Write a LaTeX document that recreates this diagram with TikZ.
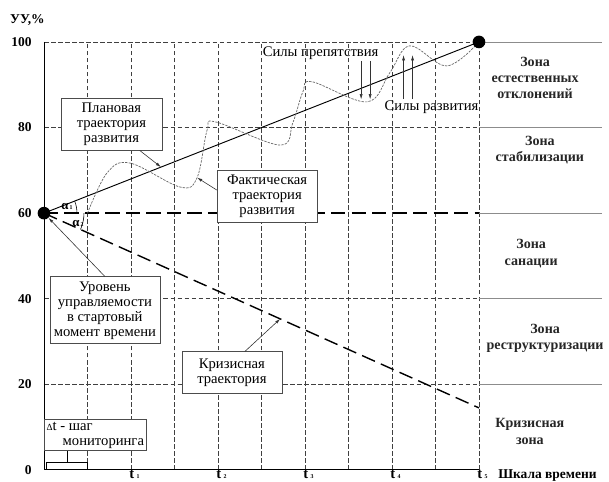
\documentclass[tikz,border=0pt]{standalone}
\usepackage{fontspec}
\setmainfont{Liberation Serif}
\usepackage{tikz}
\usetikzlibrary{positioning,arrows.meta}
\newcommand{\boxFont}{\fontsize{12.5}{12.8}\selectfont}
\newcommand{\zoneFont}{\fontsize{12}{14}\selectfont\bfseries}
\newcommand{\axisFont}{\fontsize{11.5}{13}\selectfont\bfseries}

\tikzset{
	gridline/.style={draw=black!75, line width=0.6pt, dash pattern=on 4pt off 2pt},
	zoneline/.style={draw=black!45, line width=0.7pt},
	bigdash/.style={line width=1.2pt, dash pattern=on 12pt off 5.5pt},
	infobox/.style={draw=black!70, line width=0.6pt, fill=white, align=center, font=\boxFont, inner sep=2pt},
	zone/.style={align=center, font=\zoneFont, text=black!85},
	pointer/.style={-{Latex[length=4.5pt,width=2.6pt]}, line width=0.5pt, draw=black!80},
	dot/.style={circle, fill=black, inner sep=0pt, minimum size=0.38cm},
}

\begin{document}
\begin{tikzpicture}[x=1.305cm, y=0.1284cm]
	\useasboundingbox (-1.011,-2.80) rectangle (12.989,109.8);
	%\draw[help lines] (0,0) grid (10,100);
	\foreach \v in {20,40,80,100}
		\draw[gridline] (0,\v) -- (10,\v);
	\foreach \k in {1,...,10}
		\draw[gridline] (\k,0) -- (\k,100);
	\foreach \v in {20,40,60,80,100}
		\draw[zoneline] (10,\v) -- (12.83,\v);
	\draw[line width=0.8pt] (0,100) -- (0,0) -- (10,0);

	\coordinate (crisisend) at (10,14.5);
	\coordinate (factpt) at (3.52,68.3);
	\draw[bigdash] (0,60) -- (10,60);
	\draw[bigdash] (0,60) -- (crisisend);
	\draw[line width=0.8pt] (0,60) -- (10,100);
	\path (0,60) -- (10,100) coordinate[pos=0.269] (planpt);
	\path (0,60) -- (crisisend) coordinate[pos=0.543] (crisispt);

	% fact curve
	\draw[black!60, line width=0.6pt, dash pattern=on 2pt off 1pt] plot[smooth, tension=0.6] coordinates {
		(1.0,60) (1.45,69.4) (1.98,71.7) (3.13,66.1) (factpt) (3.75,79.4) (3.95,81.3)
		(5.43,75.9) (5.72,81.1) (5.95,88.3) (6.16,90.7) (7.43,86.0) (7.95,92.8)
		(8.41,99.1) (9.26,94.4) (10,100)};

	\node[dot] (startdot) at (0,60) {};
	\node[dot] (goaldot) at (10,100) {};

	\draw[line width=0.5pt] ([shift={(0:0.99cm)}]startdot.center) arc[start angle=0, end angle=21.5, radius=0.99cm];
	\draw[line width=0.5pt] ([shift={(0:1.2cm)}]startdot.center) arc[start angle=0, end angle=-24, radius=1.2cm];
	\node[font=\bfseries\fontsize{11}{12}\selectfont, inner sep=0pt] (alpha1) at (0.53,61.6) {α{\tiny\,1}};
	\node[font=\bfseries\fontsize{11}{12}\selectfont, inner sep=0pt] (alpha2) at (0.78,57.6) {α{\tiny\,2}};

	% axes labels
	\foreach \v in {0,20,...,100}
		\node[anchor=east, font=\axisFont, inner sep=0pt] (y\v) at (-0.28,\v) {\v};
	\node[font=\axisFont] (yunit) at (-0.38,105.1) {УУ,\%};
	\foreach \k in {1,...,5}
		\node[anchor=base, font=\bfseries\fontsize{12.5}{14}\selectfont, inner sep=0pt] (t\k) at ([xshift=3pt]2*\k,-2.05) {t\,{\tiny\k}};
	\node[anchor=base west, font=\axisFont, inner sep=0pt] (timescale) at (10.44,-1.95) {Шкала времени};

	% zones
	\node[zone] (zone1) at (11.29,91.6) {Зона\\естественных\\отклонений};
	\node[zone] (zone2) at (11.40,74.8) {Зона\\стабилизации};
	\node[zone] (zone3) at (11.20,50.6) {Зона\\санации};
	\node[zone] (zone4) at (11.52,30.7) {Зона\\реструктуризации};
	\node[zone] (zone5) at (11.17,9.0) {Кризисная\\зона};

	% boxes
	\node[infobox, minimum width=3.03cm, minimum height=1.56cm] (planbox) at (1.55,80.8) {Плановая\\траектория\\развития};
	\node[infobox, minimum width=3.0cm, minimum height=1.56cm] (factbox) at (5.13,64.0) {Фактическая\\траектория\\развития};
	\node[infobox, minimum width=3.3cm, minimum height=2.01cm] (startbox) at (1.40,37.3) {Уровень\\управляемости\\в стартовый\\момент времени};
	\node[infobox, minimum width=3.0cm, minimum height=1.26cm] (crisisbox) at (4.32,22.7) {Кризисная\\траектория};
	\node[infobox, minimum width=2.91cm, minimum height=0.9cm, align=left] (dtbox) at (1.18,8.18) {{\footnotesize Δ}t - шаг\\\hspace*{1.1em}мониторинга};

	\draw[pointer] ([xshift=0.85cm]planbox.south) -- (planpt);
	\draw[pointer] ([yshift=0.18cm]factbox.west) -- (factpt);
	\draw[pointer] (startbox.north) -- (startdot);
	\draw[pointer] ([xshift=0.39cm]crisisbox.north) -- (crisispt);

	\draw[line width=0.5pt] (0.05,0) -- (0.05,1.87) -- (1.0,1.87) -- (1.0,0);
	\draw[line width=0.5pt] (0.53,1.87) -- (0.53,0 |- dtbox.south);

	% forces
	\node[font=\boxFont, inner sep=1pt] (hinder) at (6.36,97.4) {Силы препятствия};
	\node[font=\boxFont, inner sep=1pt] (develop) at (8.91,84.8) {Силы развития};
	\draw[pointer] ([xshift=1.215cm]hinder.south) -- ++(0,-9);
	\draw[pointer] ([xshift=1.485cm]hinder.south) -- ++(0,-9);
	\draw[pointer] ([xshift=-0.84cm]develop.north) -- ++(0,10.3);
	\draw[pointer] ([xshift=-0.57cm]develop.north) -- ++(0,10.3);
\end{tikzpicture}
\end{document}
